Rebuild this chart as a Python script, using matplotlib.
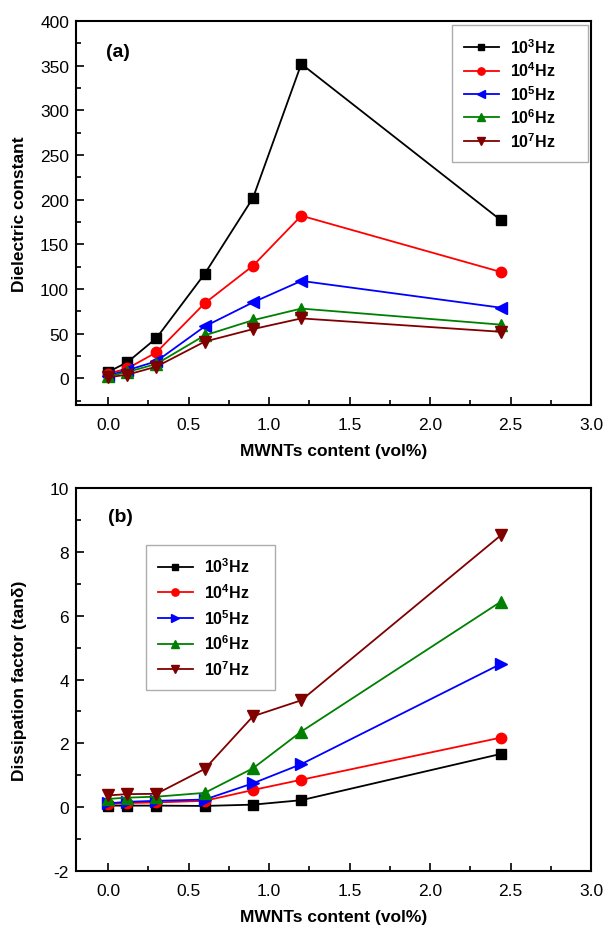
import matplotlib
matplotlib.use('Agg')
import matplotlib.pyplot as plt
from matplotlib.ticker import MultipleLocator

plt.rcParams['font.family'] = ['Liberation Sans', 'DejaVu Sans']
plt.rcParams['mathtext.fontset'] = 'custom'
plt.rcParams['mathtext.rm'] = 'Liberation Sans'
plt.rcParams['mathtext.bf'] = 'Liberation Sans:bold'
plt.rcParams['axes.unicode_minus'] = False

# MWNTs loading (vol%)
content = [0, 0.12, 0.3, 0.6, 0.9, 1.2, 2.44]
freq_labels = [r'$\mathbf{10^{3}}$Hz', r'$\mathbf{10^{4}}$Hz', r'$\mathbf{10^{5}}$Hz',
               r'$\mathbf{10^{6}}$Hz', r'$\mathbf{10^{7}}$Hz']

# dielectric constant at each frequency
eps_1e3 = [7, 18, 45, 117, 202, 352, 177]
eps_1e4 = [5, 11, 29, 84, 126, 182, 119]
eps_1e5 = [3, 9, 19, 58, 85, 109, 79]
eps_1e6 = [2, 7, 16, 48, 65, 78, 60]
eps_1e7 = [1, 4, 13, 41, 55, 67, 52]

# dissipation factor (tan delta) at each frequency
tan_1e3 = [0.05, 0.05, 0.05, 0.04, 0.08, 0.22, 1.67]
tan_1e4 = [0.10, 0.13, 0.15, 0.20, 0.54, 0.86, 2.18]
tan_1e5 = [0.12, 0.17, 0.20, 0.24, 0.75, 1.35, 4.49]
tan_1e6 = [0.26, 0.30, 0.33, 0.45, 1.22, 2.37, 6.44]
tan_1e7 = [0.37, 0.41, 0.42, 1.20, 2.85, 3.35, 8.52]

colors = ['black', '#ff0000', '#0000ff', '#008000', '#800000']
ms = [6.5, 7.5, 8, 8, 8]

fig = plt.figure(figsize=(6.08, 9.28), dpi=100)
ax1 = fig.add_axes([0.125, 0.5625, 0.847, 0.4137])
ax2 = fig.add_axes([0.125, 0.0603, 0.847, 0.4127])


def style(ax):
    ax.set_xlim(-0.2, 3.0)
    ax.xaxis.set_major_locator(MultipleLocator(0.5))
    ax.xaxis.set_minor_locator(MultipleLocator(0.25))
    ax.tick_params(which='both', direction='in', top=False, right=False, labelsize=12.5)
    ax.tick_params(which='major', length=6, width=1.2)
    ax.tick_params(which='minor', length=3.5, width=1.2)
    ax.tick_params(axis='x', pad=8.5)
    ax.tick_params(axis='y', pad=5)
    for s in ax.spines.values():
        s.set_linewidth(1.5)
    ax.set_xlabel('MWNTs content (vol%)', fontsize=12.5, fontweight='bold', labelpad=8)
    ax.yaxis.set_label_coords(-0.095, 0.5)


def legend(ax, x0, y0, w, spacing):
    leg = ax.legend(loc='upper left', bbox_to_anchor=(x0, 0.0, w, y0), mode='expand',
                    borderaxespad=0, fancybox=False, edgecolor='#999999',
                    prop={'size': 11.5, 'weight': 'bold'}, handlelength=2.2,
                    handletextpad=0.7, labelspacing=spacing, markerscale=0.7,
                    borderpad=0.75)
    leg.get_frame().set_linewidth(1.0)


# (a) dielectric constant
marks_a = ['s', 'o', '<', '^', 'v']
for ys, c, m, s, lab in zip([eps_1e3, eps_1e4, eps_1e5, eps_1e6, eps_1e7], colors, marks_a, ms, freq_labels):
    ax1.plot(content, ys, color=c, marker=m, markersize=s, linewidth=1.3, label=lab)
style(ax1)
ax1.set_ylim(-30, 400)
ax1.yaxis.set_major_locator(MultipleLocator(50))
ax1.yaxis.set_minor_locator(MultipleLocator(25))
ax1.set_ylabel('Dielectric constant', fontsize=12.5, fontweight='bold')
ax1.text(0.058, 0.922, '(a)', transform=ax1.transAxes, fontsize=14, fontweight='bold', va='center')
legend(ax1, 0.730, 0.99, 0.264, 0.3)

# (b) dissipation factor
marks_b = ['s', 'o', '>', '^', 'v']
for ys, c, m, s, lab in zip([tan_1e3, tan_1e4, tan_1e5, tan_1e6, tan_1e7], colors, marks_b, ms, freq_labels):
    ax2.plot(content, ys, color=c, marker=m, markersize=s, linewidth=1.3, label=lab)
style(ax2)
ax2.set_ylim(-2, 10)
ax2.yaxis.set_major_locator(MultipleLocator(2))
ax2.yaxis.set_minor_locator(MultipleLocator(1))
ax2.set_ylabel('Dissipation factor (tanδ)', fontsize=12.5, fontweight='bold')
ax2.text(0.062, 0.927, '(b)', transform=ax2.transAxes, fontsize=14, fontweight='bold', va='center')
legend(ax2, 0.135, 0.852, 0.251, 0.43)

plt.savefig('out.png', dpi=100)
plt.close()
